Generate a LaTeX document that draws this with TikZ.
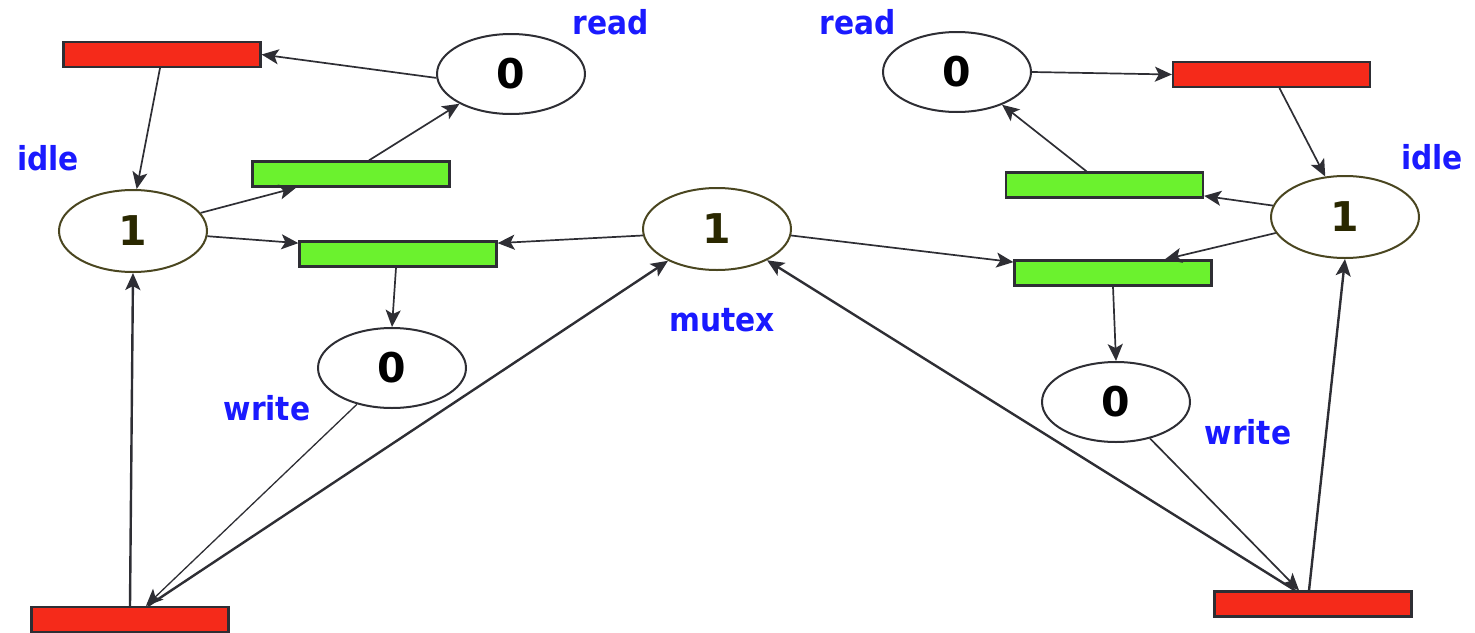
\documentclass[tikz,border=0pt]{standalone}
\usepackage{fontspec}
\setmainfont{DejaVu Sans}
\newfontfamily\labelfont{DejaVu Sans Condensed}
\usetikzlibrary{calc,arrows.meta,shapes.geometric}
\definecolor{barred}{HTML}{F52A1A}
\definecolor{bargreen}{HTML}{6BF22E}
\definecolor{lblblue}{HTML}{1A1AFF}
\definecolor{olivebd}{HTML}{4A4620}
\definecolor{olivetx}{HTML}{2A2800}
\definecolor{edgegray}{HTML}{2E2E34}
\tikzset{
  place/.style={ellipse, draw=edgegray, line width=2pt, fill=white, minimum width=148pt, minimum height=80pt, inner sep=0pt, font=\fontsize{41}{44}\selectfont\bfseries},
  oplace/.style={place, draw=olivebd, text=olivetx, minimum height=82pt},
  redbar/.style={rectangle, draw=edgegray, line width=2.2pt, fill=barred, minimum width=197pt, minimum height=25pt, inner sep=0pt},
  greenbar/.style={redbar, fill=bargreen},
  lbl/.style={text=lblblue, font=\labelfont\bfseries\fontsize{33}{36}\selectfont, inner sep=0pt},
  arc/.style={draw=edgegray, line width=1.7pt, -{Stealth[length=17pt,width=15pt,inset=4pt]}},
  thickarc/.style={arc, line width=2.4pt}
}
\begin{document}
\begin{tikzpicture}[x=1pt,y=-1pt]
\useasboundingbox (0,0) rectangle (1475,632);
% left
\node[redbar] (redTL) at (162,54.5) {};
\node[place] (readL) at (511,74) {0};
\node[greenbar] (g1) at (351,174) {};
\node[oplace] (idleL) at (133,231) {1};
\node[greenbar] (g2) at (398,254) {};
\node[place] (writeL) at (392,368) {0};
\node[redbar] (redBL) at (130,619.5) {};
% middle
\node[oplace] (mutex) at (717,229) {1};
% right
\node[place] (readR) at (957,72) {0};
\node[redbar] (redTR) at (1271.5,74.5) {};
\node[greenbar] (g3) at (1104.5,185) {};
\node[oplace] (idleR) at (1345,217) {1};
\node[greenbar] (g4) at (1113,273) {};
\node[place] (writeR) at (1116,402) {0};
\node[redbar] (redBR) at (1313,604) {};
% labels
\node[lbl] (lreadL) at (611,22) {read};
\node[lbl] (lreadR) at (858,22) {read};
\node[lbl] (lidleL) at (48,158) {idle};
\node[lbl] (lidleR) at (1432,157) {idle};
\node[lbl] (lmutex) at (722,320) {mutex};
\node[lbl] (lwriteL) at (267,408) {write};
\node[lbl] (lwriteR) at (1248,432) {write};
% left connectors
\draw[arc] (readL.183) -- (redTL.east);
\draw[arc] ($(redTL.south west)!0.49!(redTL.south east)$) -- (idleL.85);
\draw[arc] (idleL.15) -- ($(g1.south west)!0.225!(g1.south east)$);
\draw[arc] ($(g1.north west)!0.59!(g1.north east)$) -- (readL.210);
\draw[arc] (idleL.-4) -- ($(g2.west)!0.8!(g2.north west)$);
\draw[arc] (mutex.185) -- ($(g2.east)!0.8!(g2.north east)$);
\draw[arc] ($(g2.south west)!0.49!(g2.south east)$) -- (writeL.north);
\draw[arc, line width=1.3pt] (writeL.226) -- ($(redBL.north west)!0.58!(redBL.north east)$);
\draw[thickarc] ($(redBL.north west)!0.59!(redBL.north east)$) -- (mutex.213);
\draw[thickarc] ($(redBL.north west)!0.5!(redBL.north east)$) -- (idleL.south);
% right connectors
\draw[arc] (readR.east) -- (redTR.west);
\draw[arc] ($(redTR.south west)!0.54!(redTR.south east)$) -- (idleR.116);
\draw[arc] (idleR.171) -- ($(g3.east)!0.8!(g3.south east)$);
\draw[arc] ($(g3.north west)!0.41!(g3.north east)$) -- (readR.-36);
\draw[arc] (idleR.193) -- ($(g4.north west)!0.76!(g4.north east)$);
\draw[arc] (mutex.-5) -- ($(g4.west)!0.8!(g4.north west)$);
\draw[arc] ($(g4.south west)!0.5!(g4.south east)$) -- (writeR.north);
\draw[arc] (writeR.-47) -- ($(redBR.north west)!0.43!(redBR.north east)$);
\draw[thickarc] ($(redBR.north west)!0.41!(redBR.north east)$) -- (mutex.-32);
\draw[thickarc] ($(redBR.north west)!0.48!(redBR.north east)$) -- (idleR.south);
\end{tikzpicture}
\end{document}
